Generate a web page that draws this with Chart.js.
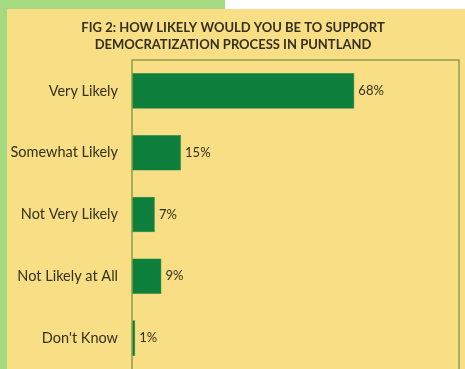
<!DOCTYPE html>
<html>
<head>
<meta charset="utf-8">
<script src="https://cdn.jsdelivr.net/npm/chart.js@4.4.1/dist/chart.umd.min.js"></script>
<style>
  html, body { margin: 0; padding: 0; background: #ffffff; width: 465px; height: 369px; overflow: hidden; }
  #topgreen { position: absolute; left: 0; top: 0; width: 225px; height: 9px; background: #a6da80; }
  #leftgreen { position: absolute; left: 0; top: 0; width: 7px; height: 369px; background: #a6da80; }
  #panel { position: absolute; left: 7px; top: 9px; width: 458px; height: 360px; background: #f8de85; }
  #c { display: block; }
</style>
</head>
<body>
<div id="topgreen"></div>
<div id="leftgreen"></div>
<div id="panel"><canvas id="c" width="458" height="360"></canvas></div>
<script>
const titleLines = ['FIG 2: HOW LIKELY WOULD YOU BE TO SUPPORT', 'DEMOCRATIZATION PROCESS IN PUNTLAND'];
const categories = ['Very Likely', 'Somewhat Likely', 'Not Very Likely', 'Not Likely at All', "Don't Know"];
const values = [68, 15, 7, 9, 1];
const axisMax = 100;

const textColor = '#35301c';
const fontFamily = 'Lato, "Open Sans", sans-serif';

const frame = {
  id: 'frame',
  afterDatasetsDraw(chart) {
    const { ctx, chartArea: a } = chart;
    ctx.save();
    ctx.strokeStyle = '#8d9f47';
    ctx.lineWidth = 1.5;
    ctx.beginPath();
    ctx.moveTo(a.left, a.bottom + 2);
    ctx.lineTo(a.left, a.top);
    ctx.lineTo(a.right, a.top);
    ctx.lineTo(a.right, a.bottom + 2);
    ctx.stroke();
    ctx.restore();
  }
};

const valueLabels = {
  id: 'valueLabels',
  afterDatasetsDraw(chart) {
    const { ctx } = chart;
    const meta = chart.getDatasetMeta(0);
    ctx.save();
    ctx.fillStyle = textColor;
    ctx.font = '13px ' + fontFamily;
    ctx.textAlign = 'left';
    ctx.textBaseline = 'middle';
    meta.data.forEach((bar, i) => {
      ctx.fillText(values[i] + '%', bar.x + 4, bar.y);
    });
    ctx.restore();
  }
};

new Chart(document.getElementById('c'), {
  type: 'bar',
  data: {
    labels: categories,
    datasets: [{
      data: values,
      backgroundColor: '#0f7f3d',
      borderColor: '#1a8a47',
      borderWidth: 0.5,
      barPercentage: 0.9,
      categoryPercentage: 0.64
    }]
  },
  options: {
    indexAxis: 'y',
    responsive: false,
    animation: false,
    layout: { padding: { left: 0, right: 6, top: 0, bottom: 0 } },
    plugins: {
      legend: { display: false },
      tooltip: { enabled: false },
      title: {
        display: true,
        text: titleLines,
        color: textColor,
        font: { family: fontFamily, size: 13, weight: 'bold', lineHeight: 1.25 },
        padding: { top: 11, bottom: 7.5 }
      }
    },
    scales: {
      x: {
        display: false,
        min: 0,
        max: axisMax
      },
      y: {
        grid: { display: false, drawTicks: false },
        border: { display: false },
        ticks: {
          color: textColor,
          font: { family: fontFamily, size: 14.5 },
          padding: 14
        },
        afterFit(scale) {
          scale.width = 125;
          scale.paddingTop = 0;
          scale.paddingBottom = 0;
        }
      }
    }
  },
  plugins: [frame, valueLabels]
});
</script>
</body>
</html>
